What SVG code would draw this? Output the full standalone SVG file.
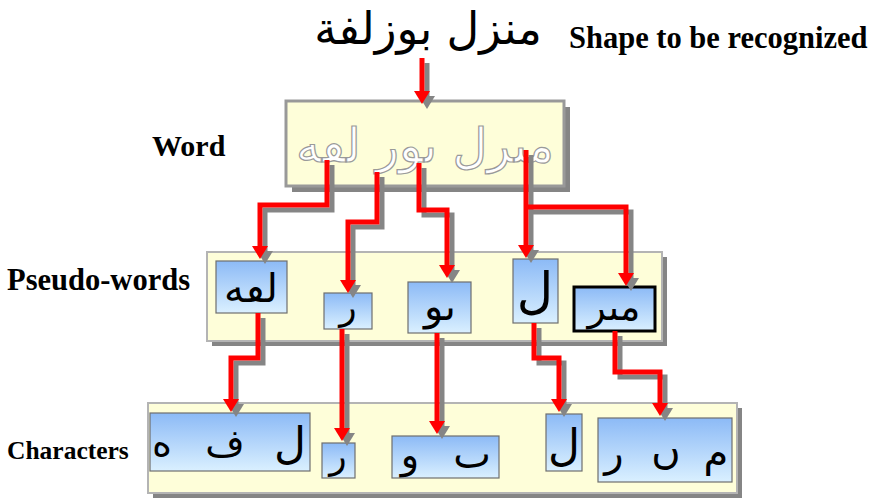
<svg xmlns="http://www.w3.org/2000/svg" width="879" height="499" viewBox="0 0 879 499">
<defs>
<linearGradient id="blue" x1="0" y1="0" x2="0" y2="1">
<stop offset="0" stop-color="#8cbaf6"/>
<stop offset="1" stop-color="#daf0ff"/>
</linearGradient>
<marker id="ar" markerUnits="userSpaceOnUse" markerWidth="16" markerHeight="18" viewBox="0 -9 14 18" refX="6" refY="0" orient="auto"><path d="M0,-8 L13,0 L0,8 z" fill="#ff0000"/></marker>
<marker id="ag" markerUnits="userSpaceOnUse" markerWidth="16" markerHeight="18" viewBox="0 -9 14 18" refX="6" refY="0" orient="auto"><path d="M0,-8 L13,0 L0,8 z" fill="#858585"/></marker>
</defs>
<style>
.lab{font-family:"Liberation Serif","Times New Roman",serif;font-weight:bold;fill:#000}
.ar{font-family:"DejaVu Sans","Noto Sans",sans-serif;fill:#000}
.outl{font-family:"DejaVu Sans","Noto Sans",sans-serif;fill:#fff;stroke:#9a9a9a;stroke-width:1.2}
.panel{fill:#fefed9;stroke:#b4b4b4;stroke-width:2}
.shadow{fill:#858585}
.cell{fill:url(#blue);stroke:#6e6e6e;stroke-width:1.2}
.red{fill:none;stroke:#ff0000;stroke-width:5;marker-end:url(#ar)}
.gray{fill:none;stroke:#858585;stroke-width:5;marker-end:url(#ag)}
</style>
<rect width="879" height="499" fill="#fff"/>

<g id="shape">
<text class="ar" x="428" y="44" font-size="45" text-anchor="middle" direction="rtl">منزل بوزلفة</text>
<text class="lab" x="569" y="48" font-size="30.5">Shape to be recognized</text>
</g>

<g id="word">
<rect class="shadow" x="292" y="107" width="278" height="85"/>
<rect x="286" y="101" width="278" height="85" fill="#fefed9" stroke="#999" stroke-width="3"/>
<text class="outl" x="425" y="162" font-size="48" text-anchor="middle" direction="rtl">مٮرل ٮور لڡه</text>
<text class="lab" x="152" y="156" font-size="30">Word</text>
</g>

<g id="pseudo-words">
<rect class="shadow" x="212" y="257" width="455" height="89"/>
<rect class="panel" x="207" y="252" width="455" height="89"/>
<text class="lab" x="7" y="290" font-size="30.5">Pseudo-words</text>
<rect class="cell" x="216" y="261" width="71" height="52"/>
<text class="ar" x="251" y="302" font-size="40" text-anchor="middle" direction="rtl">لڡه</text>
<rect class="cell" x="324" y="293" width="48" height="36"/>
<text class="ar" x="348" y="319" font-size="36" text-anchor="middle">ر</text>
<rect class="cell" x="408" y="282" width="63" height="51"/>
<text class="ar" x="440" y="320" font-size="40" text-anchor="middle" direction="rtl">ٮو</text>
<rect class="cell" x="513" y="259" width="45" height="64"/>
<text class="ar" x="535" y="308" font-size="50" text-anchor="middle">ل</text>
<rect x="574" y="287" width="81" height="44" fill="url(#blue)" stroke="#000" stroke-width="3"/>
<text class="ar" x="614" y="320" font-size="38" text-anchor="middle" direction="rtl">مٮر</text>
</g>

<g id="characters">
<rect class="shadow" x="153" y="408" width="589" height="90"/>
<rect class="panel" x="148" y="403" width="589" height="90"/>
<text class="lab" x="7" y="459" font-size="25.5">Characters</text>
<rect class="cell" x="150" y="413" width="160" height="58"/>
<text class="ar" x="162" y="456" font-size="38" text-anchor="middle">ه</text>
<text class="ar" x="225" y="456" font-size="38" text-anchor="middle">ف</text>
<text class="ar" x="290" y="458" font-size="44" text-anchor="middle">ل</text>
<rect class="cell" x="322" y="443" width="33" height="35"/>
<text class="ar" x="338" y="468" font-size="36" text-anchor="middle">ر</text>
<rect class="cell" x="392" y="436" width="107" height="42"/>
<text class="ar" x="410" y="468" font-size="38" text-anchor="middle">و</text>
<text class="ar" x="472" y="468" font-size="40" text-anchor="middle">ٮ</text>
<rect class="cell" x="546" y="414" width="36" height="57"/>
<text class="ar" x="564" y="460" font-size="44" text-anchor="middle">ل</text>
<rect class="cell" x="598" y="418" width="134" height="64"/>
<text class="ar" x="614" y="466" font-size="40" text-anchor="middle">ر</text>
<text class="ar" x="666" y="464" font-size="40" text-anchor="middle">ں</text>
<text class="ar" x="716" y="466" font-size="40" text-anchor="middle">م</text>
</g>

<g id="connectors">
<g transform="translate(5,5)">
<path class="gray" d="M422,58 V97"/>
<path class="gray" d="M327,160 V205 H260 V252"/>
<path class="gray" d="M377,172 V222 H348 V286"/>
<path class="gray" d="M419,163 V210 H447 V271"/>
<path class="gray" d="M526,150 V251"/>
<path class="gray" d="M526,207 H626 V279"/>
<path class="gray" d="M258,313 V358 H231 V405"/>
<path class="gray" d="M342,329 V434"/>
<path class="gray" d="M437,333 V427"/>
<path class="gray" d="M534,323 V358 H559 V405"/>
<path class="gray" d="M615,331 V372 H660 V409"/>
</g>
<path class="red" d="M422,58 V97"/>
<path class="red" d="M327,160 V205 H260 V252"/>
<path class="red" d="M377,172 V222 H348 V286"/>
<path class="red" d="M419,163 V210 H447 V271"/>
<path class="red" d="M526,150 V251"/>
<path class="red" d="M526,207 H626 V279"/>
<path class="red" d="M258,313 V358 H231 V405"/>
<path class="red" d="M342,329 V434"/>
<path class="red" d="M437,333 V427"/>
<path class="red" d="M534,323 V358 H559 V405"/>
<path class="red" d="M615,331 V372 H660 V409"/>
</g>
</svg>
